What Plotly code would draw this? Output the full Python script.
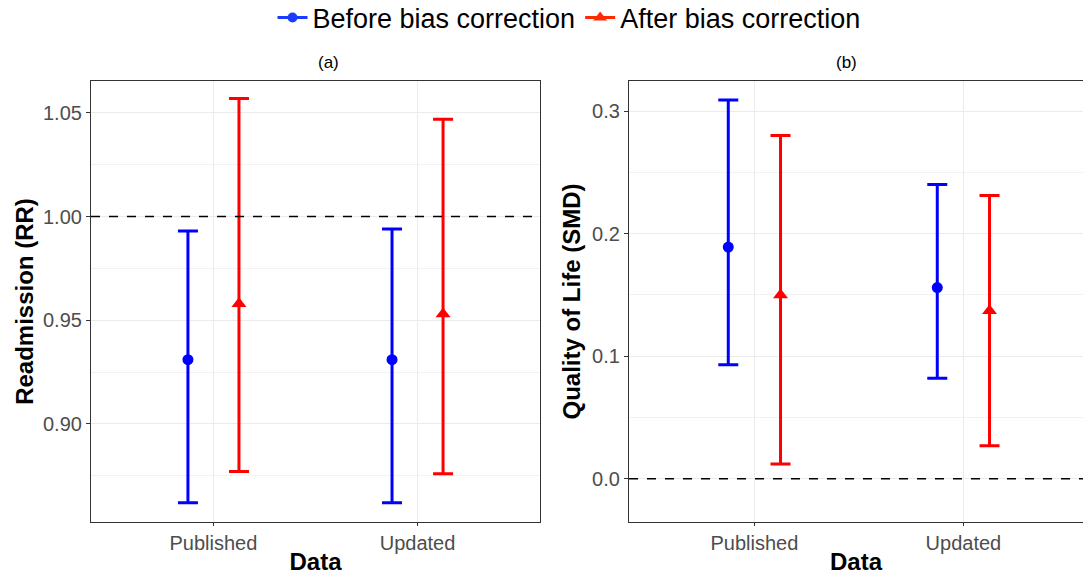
import plotly.graph_objects as go

categories = ["Published", "Updated"]
series_names = ["Before bias correction", "After bias correction"]

# Panel (a): Readmission (RR)
a_before_est = [0.931, 0.931]
a_before_lo = [0.862, 0.862]
a_before_hi = [0.993, 0.994]
a_after_est = [0.958, 0.953]
a_after_lo = [0.877, 0.876]
a_after_hi = [1.057, 1.047]

# Panel (b): Quality of Life (SMD)
b_before_est = [0.189, 0.156]
b_before_lo = [0.093, 0.082]
b_before_hi = [0.309, 0.240]
b_after_est = [0.150, 0.137]
b_after_lo = [0.012, 0.027]
b_after_hi = [0.280, 0.231]

a_ticks = [0.90, 0.95, 1.00, 1.05]
a_minor = [0.875, 0.925, 0.975, 1.025]
b_ticks = [0.0, 0.1, 0.2, 0.3]
b_minor = [0.05, 0.15, 0.25]

BLUE = "#0000FF"
RED = "#FF0000"
FONT = "Liberation Sans, Arial, sans-serif"
DODGE = 0.125

fig = go.Figure()

def add_series(est, lo, hi, offset, color, symbol, size, xa, ya):
    xs = [i + 1 + offset for i in range(len(categories))]
    fig.add_trace(go.Scatter(
        x=xs, y=est, mode="markers", xaxis=xa, yaxis=ya, showlegend=False,
        marker=dict(color=color, symbol=symbol, size=size),
        error_y=dict(type="data", symmetric=False,
                     array=[h - e for h, e in zip(hi, est)],
                     arrayminus=[e - l for e, l in zip(est, lo)],
                     color=color, thickness=3, width=10),
    ))

add_series(a_before_est, a_before_lo, a_before_hi, -DODGE, BLUE, "circle", 11, "x", "y")
add_series(a_after_est, a_after_lo, a_after_hi, DODGE, RED, "triangle-up", 13, "x", "y")
add_series(b_before_est, b_before_lo, b_before_hi, -DODGE, BLUE, "circle", 11, "x2", "y2")
add_series(b_after_est, b_after_lo, b_after_hi, DODGE, RED, "triangle-up", 13, "x2", "y2")

# legend entries
fig.add_trace(go.Scatter(x=[None], y=[None], mode="lines+markers", name=series_names[0],
                         line=dict(color="#1A3CFF", width=3),
                         marker=dict(color="#1A3CFF", symbol="circle", size=10)))
fig.add_trace(go.Scatter(x=[None], y=[None], mode="lines+markers", name=series_names[1],
                         line=dict(color="#FF2A00", width=3),
                         marker=dict(color="#FF2A00", symbol="triangle-up", size=12)))

W, H = 1083, 581
TICKFONT = dict(family=FONT, size=20, color="#4D4D4D")
ax_common = dict(
    tickmode="array", tickvals=[1, 2], ticktext=categories,
    showgrid=True, gridcolor="#EBEBEB", gridwidth=1.2,
    showline=True, linecolor="#333333", linewidth=1.2, mirror=True,
    ticks="outside", ticklen=3, tickcolor="#333333", tickwidth=1.1,
    tickfont=TICKFONT, automargin=False,
    title=dict(text="<b>Data</b>", font=dict(family=FONT, size=24, color="black"), standoff=0),
    zeroline=False,
)
ay_common = dict(
    showgrid=True, gridcolor="#EBEBEB", gridwidth=1.2,
    showline=True, linecolor="#333333", linewidth=1.2,
    ticks="outside", ticklen=4, tickcolor="#333333", tickwidth=1.1,
    tickfont=TICKFONT, automargin=False,
    zeroline=False,
)

fig.update_layout(
    width=W, height=H,
    margin=dict(l=0, r=0, t=0, b=0, autoexpand=False),
    paper_bgcolor="white", plot_bgcolor="white",
    font=dict(family=FONT),
    showlegend=True,
    legend=dict(orientation="h", x=569 / W, xanchor="center", y=1 - 18 / H, yanchor="middle",
                font=dict(family=FONT, size=27, color="black"),
                itemwidth=30, tracegroupgap=0, bgcolor="rgba(0,0,0,0)"),
    xaxis=dict(domain=[91 / W, 540 / W], range=[0.4, 2.6], anchor="y", **ax_common),
    yaxis=dict(domain=[1 - 522 / H, 1 - 81 / H], range=[0.8527, 1.0654], anchor="x",
               tickvals=a_ticks, ticktext=["%.2f" % t for t in a_ticks],
               minor=dict(tickvals=a_minor, showgrid=True, gridcolor="#F2F2F2", gridwidth=0.8, ticks=""),
               mirror=True,
               title=dict(text="<b>Readmission (RR)</b>", font=dict(family=FONT, size=24, color="black"), standoff=2),
               **ay_common),
    xaxis2=dict(domain=[629 / W, 1.0], range=[0.4, 0.4 + (1083 - 629) / 209.0], anchor="y2", **ax_common),
    yaxis2=dict(domain=[1 - 522 / H, 1 - 81 / H], range=[-0.0353, 0.3245], anchor="x2",
                tickvals=b_ticks, ticktext=["%.1f" % t for t in b_ticks],
                minor=dict(tickvals=b_minor, showgrid=True, gridcolor="#F2F2F2", gridwidth=0.8, ticks=""),
                mirror=False,
                title=dict(text="<b>Quality of Life (SMD)</b>", font=dict(family=FONT, size=24, color="black"), standoff=4),
                **ay_common),
    shapes=[
        dict(type="line", xref="x domain", yref="y", x0=0, x1=1, y0=1.0, y1=1.0,
             line=dict(color="black", width=1.5, dash="dash")),
        dict(type="line", xref="x2 domain", yref="y2", x0=0, x1=1, y0=0.0, y1=0.0,
             line=dict(color="black", width=1.5, dash="dash")),
    ],
    annotations=[
        dict(text="(a)", xref="paper", yref="paper", x=(91 + 540) / 2 / W, y=1 - 62 / H,
             showarrow=False, font=dict(family=FONT, size=17, color="black"), yanchor="middle"),
        dict(text="(b)", xref="paper", yref="paper", x=859 / W, y=1 - 62 / H,
             showarrow=False, font=dict(family=FONT, size=17, color="black"), yanchor="middle"),
    ],
)

fig.write_html("out.html", config={"displayModeBar": False},
               post_script="document.body.style.margin='0';document.body.style.overflow='hidden';")
